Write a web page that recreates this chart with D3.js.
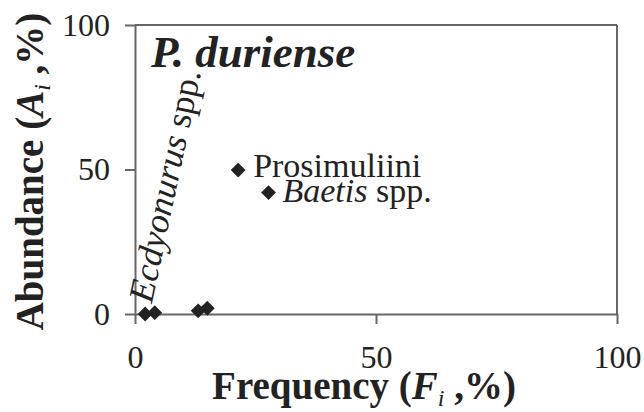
<!DOCTYPE html>
<html>
<head>
<meta charset="utf-8">
<script src="https://cdn.jsdelivr.net/npm/d3@7"></script>
</head>
<body style="margin:0">
<svg id="chart" width="644" height="412"></svg>
<script>
// ---- data ----
const frequency = [2.1, 4.1, 13.1, 15.0, 21.4, 27.7];
const abundance = [0.0, 0.45, 1.1, 2.0, 49.8, 42.0];
const taxa = ["", "", "", "", "Prosimuliini", "Baetis spp."];
const xTicks = [0, 50, 100];
const yTicks = [0, 50, 100];
const chartTitle = "P. duriense";
const ecdyLabel = "Ecdyonurus";

const FONT = "Times New Roman";
const INK = "#222";

const svg = d3.select("#chart");
svg.append("rect").attr("width", 644).attr("height", 412).attr("fill", "#fff");

const x = d3.scaleLinear().domain([0, 100]).range([135, 617]);
const y = d3.scaleLinear().domain([0, 100]).range([314, 25]);

const axisColor = "#666";

// frame (top and right)
svg.append("line").attr("x1", x(0)).attr("x2", x(100)).attr("y1", y(100)).attr("y2", y(100))
  .attr("stroke", axisColor).attr("stroke-width", 2);
svg.append("line").attr("x1", x(100)).attr("x2", x(100)).attr("y1", y(0)).attr("y2", y(100))
  .attr("stroke", axisColor).attr("stroke-width", 2);

// axes
const gx = svg.append("g").attr("transform", `translate(0,${y(0)})`)
  .call(d3.axisBottom(x).tickValues(xTicks).tickFormat(d3.format("d")).tickSize(10).tickSizeOuter(0).tickPadding(21));
const gy = svg.append("g").attr("transform", `translate(${x(0)},0)`)
  .call(d3.axisLeft(y).tickValues(yTicks).tickFormat(d3.format("d")).tickSize(10).tickSizeOuter(0).tickPadding(15));
[gx, gy].forEach(g => {
  g.attr("font-family", FONT).attr("font-size", 32);
  g.selectAll("path.domain").attr("stroke", axisColor).attr("stroke-width", 2);
  g.selectAll(".tick line").attr("stroke", axisColor).attr("stroke-width", 2);
  g.selectAll(".tick text").attr("fill", INK);
});

// points
const pts = frequency.map((f, i) => ({ f, a: abundance[i], name: taxa[i] }));
svg.append("g").selectAll("path").data(pts).join("path")
  .attr("d", d3.symbol().type(d3.symbolSquare).size(110))
  .attr("transform", d => `translate(${x(d.f)},${y(d.a)}) rotate(45)`)
  .attr("fill", INK);

// point labels
const lab = svg.append("g").attr("font-family", FONT).attr("font-size", 34).attr("fill", INK);
pts.filter(d => d.name).forEach((d, i) => {
  const t = lab.append("text")
    .attr("x", x(d.f) + (i === 0 ? 15 : 14))
    .attr("y", y(d.a) + (i === 0 ? 7 : 9));
  if (d.name.endsWith(" spp.")) {
    t.append("tspan").attr("font-style", "italic").text(d.name.replace(" spp.", ""));
    t.append("tspan").text(" spp.");
  } else {
    t.text(d.name);
  }
});

// rotated Ecdyonurus label
const ecd = svg.append("text")
  .attr("transform", `translate(${x(3.5)},${y(3.5)}) rotate(-78)`)
  .attr("font-family", FONT).attr("font-size", 35.5).attr("fill", INK);
ecd.append("tspan").attr("font-style", "italic").text(ecdyLabel);
ecd.append("tspan").text(" spp.");

// title
svg.append("text").attr("x", 151).attr("y", 67)
  .attr("font-family", FONT).attr("font-size", 45).attr("font-weight", "bold").attr("font-style", "italic")
  .attr("fill", INK).text(chartTitle);

// x axis title
const xt = svg.append("text").attr("x", (x(0) + x(100)) / 2 - 12).attr("y", 399)
  .attr("text-anchor", "middle")
  .attr("font-family", FONT).attr("font-size", 39).attr("font-weight", "bold").attr("fill", INK);
xt.append("tspan").text("Frequency (");
xt.append("tspan").attr("font-style", "italic").text("F");
xt.append("tspan").attr("font-style", "italic").attr("font-weight", "normal").attr("font-size", 24).attr("dy", 7).text("i");
xt.append("tspan").attr("dy", -7).text(" ,%)");

// y axis title
const yt = svg.append("text")
  .attr("transform", `translate(43,${(y(0) + y(100)) / 2 + 2}) rotate(-90)`)
  .attr("text-anchor", "middle")
  .attr("font-family", FONT).attr("font-size", 39).attr("font-weight", "bold").attr("fill", INK);
yt.append("tspan").text("Abundance (");
yt.append("tspan").attr("font-style", "italic").text("A");
yt.append("tspan").attr("font-style", "italic").attr("font-weight", "normal").attr("font-size", 24).attr("dy", 7).text("i");
yt.append("tspan").attr("dy", -7).text(" ,%)");
</script>
</body>
</html>
